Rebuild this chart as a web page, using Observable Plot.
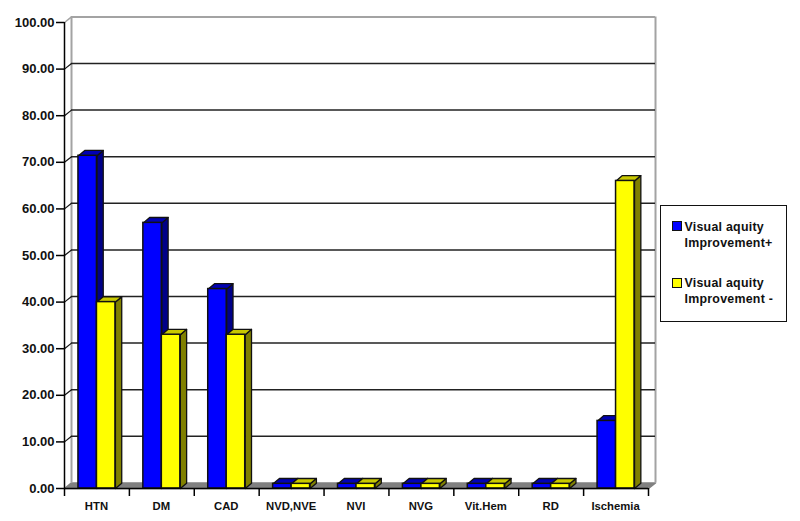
<!DOCTYPE html>
<html><head><meta charset="utf-8">
<script src="https://cdn.jsdelivr.net/npm/d3@7"></script>
<script src="https://cdn.jsdelivr.net/npm/@observablehq/plot@0.6"></script>
<style>
html,body{margin:0;padding:0;background:#fff}
#wrap{position:relative;width:800px;height:521px;overflow:hidden;font-family:"Liberation Sans",Arial,sans-serif}
svg{display:block}
#legend{position:absolute;left:660px;top:205px;width:124.5px;height:115px;border:1.5px solid #111;background:#fff;font-weight:bold;font-size:12.4px;line-height:16px;color:#111;letter-spacing:.25px}
.item{position:absolute;left:23.5px;white-space:nowrap}
.sw{position:absolute;left:-12.5px;top:2.5px;width:8px;height:8px;border:1px solid #111}
</style></head><body><div id="wrap"><div id="chart"></div>
<div id="legend"></div></div>
<script>
const categories = ["HTN","DM","CAD","NVD,NVE","NVI","NVG","Vit.Hem","RD","Ischemia"];
const improved = [71.4,57,42.8,1,1,1,1,1,14.5];
const notImproved = [40,33,33,1,1,1,1,1,66];
const seriesNames = ["Visual aquity\nImprovement+","Visual aquity\nImprovement -"];
const yTicks = [0,10,20,30,40,50,60,70,80,90,100];
const gridTicks = [10,20,30,40,50,60,70,80,90];
const frontColors = ["#0000ff","#ffff00"];
const sideColors = ["#000088","#808000"];
const topColors = ["#0000b4","#c8c800"];

// depth of the pseudo-3D wall and of the bars, in data units
const wallX = 0.108, wallY = 1.2, barDX = 0.097, barDY = 1.15;
const barStart = 0.215, barW = 0.285;
const n = categories.length;

const bars = [improved, notImproved].flatMap((vals, s) =>
  vals.map((v, i) => ({s, i, v, x1: i + barStart + s * barW, x2: i + barStart + (s + 1) * barW})));

const poly = (b, face) => {
  const id = `${b.s}-${b.i}-${face}`;
  const pts = face === "side"
    ? [[b.x2,0],[b.x2+barDX,barDY],[b.x2+barDX,b.v+barDY],[b.x2,b.v],[b.x2,0]]
    : [[b.x1,b.v],[b.x1+barDX,b.v+barDY],[b.x2+barDX,b.v+barDY],[b.x2,b.v],[b.x1,b.v]];
  return pts.map(([x,y]) => ({id, x, y}));
};
const barMarks = [0,1].flatMap(s => {
  const bs = bars.filter(b => b.s === s);
  return [
    Plot.line(bs.flatMap(b => poly(b,"side")), {x:"x",y:"y",z:"id",fill:sideColors[s],stroke:"#111",strokeWidth:1.3,curve:"linear"}),
    Plot.line(bs.flatMap(b => poly(b,"top")), {x:"x",y:"y",z:"id",fill:topColors[s],stroke:"#111",strokeWidth:1.3,curve:"linear"}),
    Plot.rect(bs, {x1:"x1",x2:"x2",y1:0,y2:"v",fill:frontColors[s],stroke:"#111",strokeWidth:1.5})
  ];
});

const floor = [[0,0],[wallX,wallY],[n+wallX,wallY],[n,0],[0,0]].map(([x,y]) => ({x,y}));
const gray = "#a3a3a3";

const chart = Plot.plot({
  width: 800, height: 521,
  marginLeft: 64, marginRight: 152, marginTop: 22, marginBottom: 33,
  style: {fontFamily: '"Liberation Sans",Arial,sans-serif', background: "#fff", overflow: "visible"},
  x: {type: "linear", domain: [0, n], axis: null},
  y: {domain: [0, 100], axis: null},
  marks: [
    // floor and walls
    Plot.line(floor, {x:"x",y:"y",fill:"#808080",stroke:"#808080",curve:"linear"}),
    Plot.ruleX([wallX], {y1:wallY,y2:100+wallY,stroke:gray,strokeWidth:2}),
    Plot.ruleX([n+wallX], {y1:wallY,y2:100+wallY,stroke:gray,strokeWidth:2}),
    Plot.ruleY([100+wallY], {x1:wallX,x2:n+wallX,stroke:gray,strokeWidth:2}),
    Plot.link([100], {x1:0,x2:wallX,y1:d=>d,y2:d=>d+wallY,stroke:gray,strokeWidth:1.5}),
    // grid on the back wall with slanted joins to the axis
    Plot.ruleY(gridTicks, {y:d=>d+wallY,x1:wallX,x2:n+wallX,stroke:"#222",strokeWidth:1.5}),
    Plot.link(gridTicks, {x1:0,x2:wallX,y1:d=>d,y2:d=>d+wallY,stroke:"#111",strokeWidth:1.2}),
    ...barMarks,
    // axes
    Plot.ruleX([0], {y1:0,y2:100,stroke:"#000",strokeWidth:1.5}),
    Plot.ruleY([0], {x1:0,x2:n,stroke:"#000",strokeWidth:1.5}),
    Plot.axisY({ticks:yTicks,tickSize:8,tickPadding:2,tickFormat:d3.format(".2f"),label:null,fontSize:13,fontWeight:"bold",fill:"#111",stroke:"#000",strokeWidth:1.5}),
    Plot.axisX({ticks:d3.range(n+1),tickSize:8,tickFormat:()=>"",label:null,stroke:"#000",strokeWidth:1.5}),
    Plot.axisX({ticks:d3.range(n).map(i=>i+0.5),tickSize:0,tickPadding:13,tickFormat:d=>categories[d-0.5],label:null,fontSize:11.3,fontWeight:"bold",fill:"#111",dx:-0.5})
  ]
});
document.getElementById("chart").appendChild(chart);

const legend = document.getElementById("legend");
seriesNames.forEach((name,s)=>{
  const it = document.createElement("div");
  it.className = "item";
  it.style.top = (s===0?12.5:69)+"px";
  it.innerHTML = name.replace("\n","<br>")+`<span class="sw" style="background:${frontColors[s]}"></span>`;
  legend.appendChild(it);
});
</script></body></html>
